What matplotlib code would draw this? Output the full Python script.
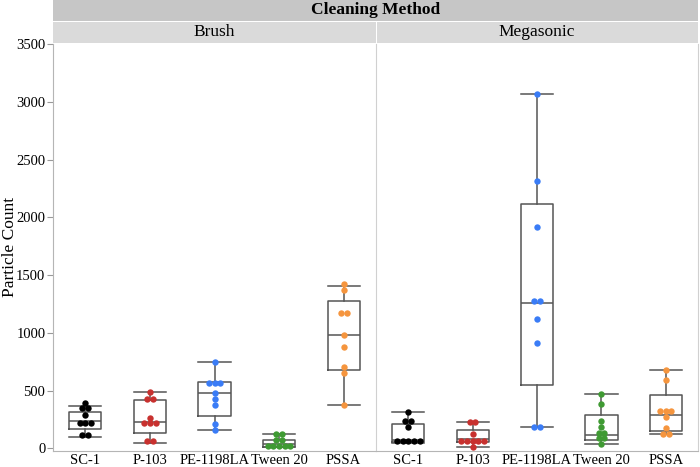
import matplotlib
matplotlib.use("Agg")
import matplotlib.pyplot as plt
from matplotlib.patches import Rectangle
import numpy as np

plt.rcParams['font.family'] = ['Liberation Serif', 'DejaVu Serif']

categories = ["SC-1", "P-103", "PE-1198LA", "Tween 20", "PSSA"]
methods = ["Brush", "Megasonic"]
colors = ["#000000", "#c8312f", "#3a7cf6", "#3f9a33", "#f5953e"]

# Points per group (Brush)
sc1_brush = [395, 347, 347, 289, 217, 217, 217, 115, 115]
p103_brush = [488, 425, 425, 265, 217, 217, 217, 63, 63]
pe_brush = [745, 568, 568, 568, 482, 427, 375, 211, 161]
tween_brush = [121, 121, 75, 75, 20, 20, 20, 20, 20]
pssa_brush = [1421, 1372, 1172, 1172, 982, 881, 707, 655, 372]

# Points per group (Megasonic)
sc1_mega = [312, 239, 239, 187, 66, 66, 66, 66, 66]
p103_mega = [228, 228, 121, 66, 66, 66, 66, 66, 11]
pe_mega = [3070, 2313, 1920, 1279, 1279, 1120, 915, 182, 182]
tween_mega = [471, 381, 236, 185, 135, 135, 87, 87, 35]
pssa_mega = [681, 592, 321, 321, 321, 269, 179, 127, 127]

# Box stats: whisker low, q1, median, q3, whisker high
brush_whislo = [101, 43, 161, 8, 372]
brush_q1 = [167, 130, 282, 11, 676]
brush_med = [237, 228, 479, 40, 982]
brush_q3 = [312, 416, 572, 72, 1279]
brush_whishi = [367, 488, 745, 121, 1407]

mega_whislo = [49, 11, 182, 35, 121]
mega_q1 = [55, 52, 548, 69, 147]
mega_med = [75, 81, 1256, 113, 289]
mega_q3 = [208, 156, 2117, 289, 465]
mega_whishi = [312, 228, 3070, 471, 681]

panels = [
    ([sc1_brush, p103_brush, pe_brush, tween_brush, pssa_brush],
     brush_whislo, brush_q1, brush_med, brush_q3, brush_whishi),
    ([sc1_mega, p103_mega, pe_mega, tween_mega, pssa_mega],
     mega_whislo, mega_q1, mega_med, mega_q3, mega_whishi),
]

W, H = 700, 467
fig = plt.figure(figsize=(W / 100, H / 100), dpi=100)

left_px, mid_px, right_px = 53, 376, 698
top_px, bot_px = 44, 451
ax_b = fig.add_axes([left_px / W, 1 - bot_px / H, (mid_px - left_px) / W, (bot_px - top_px) / H])
ax_m = fig.add_axes([mid_px / W, 1 - bot_px / H, (right_px - mid_px) / W, (bot_px - top_px) / H], sharey=ax_b)

ylim = (-23, 3503)
dot_d = 0.088  # dot spacing in category units

for ax, (pts, wl, q1, med, q3, wh) in zip([ax_b, ax_m], panels):
    stats = []
    for i in range(len(categories)):
        stats.append(dict(whislo=wl[i], q1=q1[i], med=med[i], q3=q3[i], whishi=wh[i], fliers=[]))
    ax.bxp(stats, positions=range(len(categories)), widths=0.5, capwidths=0.5,
           showfliers=False, patch_artist=False,
           boxprops=dict(color="#555555", lw=1.1),
           medianprops=dict(color="#555555", lw=1.1),
           whiskerprops=dict(color="#555555", lw=1.1),
           capprops=dict(color="#555555", lw=1.1), zorder=1)
    for i, vals in enumerate(pts):
        vals = np.asarray(vals, dtype=float)
        xs = np.zeros_like(vals)
        uniq = {}
        for j, v in enumerate(vals):
            uniq.setdefault(v, []).append(j)
        for v, idx in uniq.items():
            n = len(idx)
            for k, j in enumerate(idx):
                xs[j] = i + (k - (n - 1) / 2) * dot_d
        ax.plot(xs, vals, 'o', color=colors[i], ms=4.6, mec='none', zorder=3, clip_on=False)
    ax.set_xlim(-0.5, len(categories) - 0.5)
    ax.set_ylim(*ylim)
    ax.set_xticks(range(len(categories)))
    ax.set_xticklabels(categories, fontsize=10.5)
    ax.tick_params(axis='x', length=0, pad=2)
    ax.spines['top'].set_visible(False)
    ax.spines['bottom'].set_color("#b5b5b5")
    ax.spines['left'].set_color("#d0d0d0")
    ax.spines['right'].set_color("#d0d0d0")

ax_b.spines['left'].set_color("#b5b5b5")
ax_b.spines['right'].set_visible(False)
ax_b.set_yticks(np.arange(0, 3501, 500))
ax_b.tick_params(axis='y', length=4, color="#999999", labelsize=10.5, pad=1.5)
ax_m.tick_params(axis='y', left=False, labelleft=False)
fig.text(10 / W, 1 - 247 / H, "Particle Count", rotation=90, ha='center', va='center', fontsize=12.5)

# Header bands
band1_top, band1_bot = 0, 21
band2_top, band2_bot = 22, 43
fig.patches.append(Rectangle((left_px / W, 1 - band1_bot / H), (right_px - left_px) / W,
                             (band1_bot - band1_top) / H, transform=fig.transFigure,
                             facecolor="#c6c6c6", edgecolor="none"))
fig.patches.append(Rectangle((left_px / W, 1 - band2_bot / H), (mid_px - left_px) / W,
                             (band2_bot - band2_top) / H, transform=fig.transFigure,
                             facecolor="#dadada", edgecolor="none"))
fig.patches.append(Rectangle(((mid_px + 1) / W, 1 - band2_bot / H), (right_px - mid_px - 1) / W,
                             (band2_bot - band2_top) / H, transform=fig.transFigure,
                             facecolor="#dadada", edgecolor="none"))
fig.text((left_px + right_px) / 2 / W, 1 - (band1_top + band1_bot) / 2 / H, "Cleaning Method",
         ha='center', va='center', fontsize=12.5, fontweight='bold')
fig.text((left_px + mid_px) / 2 / W, 1 - (band2_top + band2_bot) / 2 / H, "Brush",
         ha='center', va='center', fontsize=12.5)
fig.text((mid_px + right_px) / 2 / W, 1 - (band2_top + band2_bot) / 2 / H, "Megasonic",
         ha='center', va='center', fontsize=12.5)

fig.savefig("out.png", dpi=100)
